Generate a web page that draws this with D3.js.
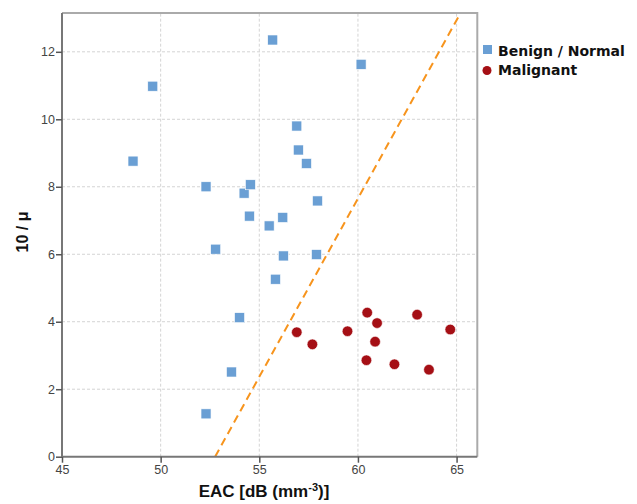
<!DOCTYPE html>
<html>
<head>
<meta charset="utf-8">
<script src="https://cdn.jsdelivr.net/npm/d3@7"></script>
<style>
  body { margin: 0; background: #fff; }
  .tick text { font-family: "Liberation Sans", Arial, sans-serif; font-size: 12.5px; fill: #444; }
</style>
</head>
<body>
<div id="chart"></div>
<script>
// benign / normal group
var benignEAC = [48.6, 49.6, 52.3, 54.23, 54.55, 54.5, 55.5, 56.19, 57.95, 55.68, 60.16,
                 56.9, 56.98, 57.39, 52.79, 56.22, 57.9, 55.82, 54.0, 53.59, 52.3];
var benignMu  = [8.76, 10.98, 8.0, 7.81, 8.06, 7.13, 6.84, 7.09, 7.58, 12.35, 11.63,
                 9.80, 9.09, 8.69, 6.15, 5.95, 5.99, 5.26, 4.12, 2.51, 1.27];
// malignant group
var malignEAC = [56.9, 57.69, 59.47, 60.47, 60.97, 60.87, 60.43, 61.85, 63.0, 63.6, 64.68];
var malignMu  = [3.69, 3.33, 3.72, 4.27, 3.96, 3.41, 2.86, 2.74, 4.21, 2.58, 3.77];
// separating line endpoints
var sepEAC = [52.76, 65.2];
var sepMu  = [0, 13.15];

var xTicks = [45, 50, 55, 60, 65];
var yTicks = [0, 2, 4, 6, 8, 10, 12];
var legendLabels = ["Benign / Normal", "Malignant"];

var width = 637, height = 504;
var margin = {top: 13, right: 160, bottom: 47, left: 62};

var svg = d3.select("#chart").append("svg")
    .attr("width", width)
    .attr("height", height);

var x = d3.scaleLinear().domain([45, 66.05]).range([margin.left, 477.3]);
var y = d3.scaleLinear().domain([0, 13.15]).range([456.7, margin.top]);

// grid
svg.append("g").selectAll("line").data(xTicks.slice(1)).enter().append("line")
    .attr("x1", d => x(d)).attr("x2", d => x(d))
    .attr("y1", y(0)).attr("y2", y(13.15))
    .attr("stroke", "#d4d4d4").attr("stroke-dasharray", "3,2");
svg.append("g").selectAll("line").data(yTicks.slice(1)).enter().append("line")
    .attr("x1", x(45)).attr("x2", x(66.05))
    .attr("y1", d => y(d)).attr("y2", d => y(d))
    .attr("stroke", "#d4d4d4").attr("stroke-dasharray", "3,2");

// frame top/right
svg.append("path")
    .attr("d", "M" + x(45) + "," + y(13.15) + "H" + x(66.05) + "V" + y(0))
    .attr("fill", "none").attr("stroke", "#aaa").attr("stroke-width", 2);

// separating line
var line = d3.line().x(d => x(d[0])).y(d => y(d[1]));
svg.append("path")
    .datum(sepEAC.map((v, i) => [v, sepMu[i]]))
    .attr("d", line)
    .attr("fill", "none")
    .attr("stroke", "#f7941d")
    .attr("stroke-width", 2)
    .attr("stroke-dasharray", "8,5");

// points
svg.append("g").selectAll("rect").data(benignEAC).enter().append("rect")
    .attr("x", (d, i) => x(d) - 5)
    .attr("y", (d, i) => y(benignMu[i]) - 5)
    .attr("width", 10).attr("height", 10)
    .attr("fill", "#6a9fd4").attr("stroke", "#fff").attr("stroke-width", 0.6);

svg.append("g").selectAll("circle").data(malignEAC).enter().append("circle")
    .attr("cx", d => x(d))
    .attr("cy", (d, i) => y(malignMu[i]))
    .attr("r", 5.3)
    .attr("fill", "#a50f15").attr("stroke", "#fff").attr("stroke-width", 0.6);

// axes
var xAxis = svg.append("g")
    .attr("transform", "translate(0," + y(0) + ")")
    .call(d3.axisBottom(x).tickValues(xTicks).tickSize(6).tickPadding(2).tickFormat(d3.format("d")));
var yAxis = svg.append("g")
    .attr("transform", "translate(" + x(45) + ",0)")
    .call(d3.axisLeft(y).tickValues(yTicks).tickSize(6).tickPadding(1).tickFormat(d3.format("d")));
[xAxis, yAxis].forEach(function(a) {
  a.select(".domain").attr("stroke", "#777").attr("stroke-width", 2);
  a.selectAll(".tick line").attr("stroke", "#555").attr("stroke-width", 1.5);
});
xAxis.select(".domain").attr("d", "M" + x(45) + ",0H" + x(66.05));
yAxis.select(".domain").attr("d", "M0," + y(0) + "V" + y(13.15));

// axis titles
svg.append("text")
    .attr("x", 264).attr("y", 497)
    .attr("text-anchor", "middle")
    .style("font-family", "Liberation Sans, Arial, sans-serif")
    .style("font-size", "17px").style("font-weight", "bold").style("fill", "#111")
    .html('EAC [dB (mm<tspan dy="-6" font-size="11px">-3</tspan><tspan dy="6">)]</tspan>');

svg.append("text")
    .attr("transform", "translate(28,232) rotate(-90)")
    .attr("text-anchor", "middle")
    .style("font-family", "Liberation Sans, Arial, sans-serif")
    .style("font-size", "16px").style("font-weight", "bold").style("fill", "#111")
    .text("10 / μ");

// legend
var legend = svg.append("g").attr("transform", "translate(483,0)");
legend.append("rect").attr("x", 0).attr("y", 45).attr("width", 9).attr("height", 9).attr("fill", "#6a9fd4");
legend.append("circle").attr("cx", 4).attr("cy", 70.5).attr("r", 4.5).attr("fill", "#a50f15");
legend.selectAll("text").data(legendLabels).enter().append("text")
    .attr("x", 15)
    .attr("y", (d, i) => 55.5 + i * 19.5)
    .style("font-family", "DejaVu Sans, sans-serif")
    .style("font-size", "14px").style("font-weight", "bold").style("fill", "#111")
    .text(d => d);
</script>
</body>
</html>
